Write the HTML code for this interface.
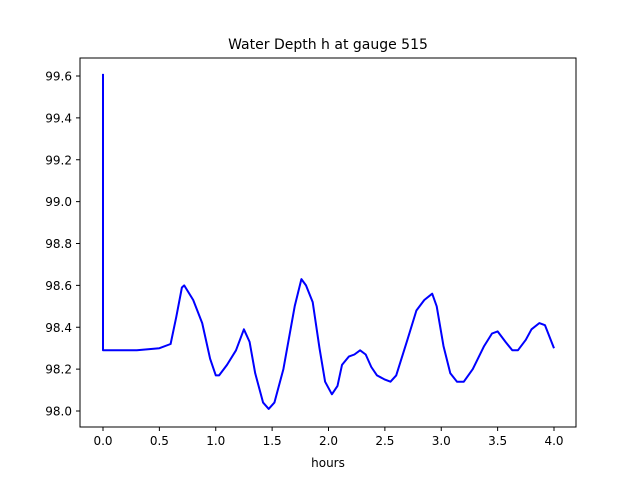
<!DOCTYPE html>
<html><head><meta charset="utf-8"><style>
body{margin:0;background:#fff;}
text{font-family:"DejaVu Sans","Liberation Sans",sans-serif;}
</style></head><body>
<svg id="chart" width="640" height="480">
<rect width="640" height="480" fill="#fff"/>
<text x="328" y="49" text-anchor="middle" font-size="14">Water Depth h at gauge 515</text>
<g id="ticks"></g>
<path id="series" fill="none" stroke="#0000ff" stroke-width="2" stroke-linejoin="round"/>
<rect x="80" y="58" width="496" height="369" fill="none" stroke="#000" stroke-width="1"/>
<text x="328" y="467" text-anchor="middle" font-size="12">hours</text>
</svg>
<script>
const hours=[0,0,0.3,0.5,0.6,0.65,0.7,0.72,0.8,0.88,0.95,1.0,1.03,1.1,1.18,1.25,1.3,1.35,1.42,1.47,1.52,1.6,1.7,1.76,1.8,1.86,1.92,1.97,2.03,2.08,2.12,2.18,2.23,2.28,2.33,2.38,2.43,2.5,2.55,2.6,2.7,2.78,2.85,2.92,2.96,3.02,3.08,3.14,3.2,3.28,3.38,3.45,3.5,3.57,3.63,3.68,3.75,3.8,3.87,3.92,4.0];
const depth=[99.61,98.29,98.29,98.30,98.32,98.45,98.59,98.60,98.53,98.42,98.25,98.17,98.17,98.22,98.29,98.39,98.33,98.18,98.04,98.01,98.04,98.2,98.5,98.63,98.6,98.52,98.3,98.14,98.08,98.12,98.22,98.26,98.27,98.29,98.27,98.21,98.17,98.15,98.14,98.17,98.34,98.48,98.53,98.56,98.5,98.31,98.18,98.14,98.14,98.2,98.31,98.37,98.38,98.33,98.29,98.29,98.34,98.39,98.42,98.41,98.30];
const xTicks=[0,0.5,1,1.5,2,2.5,3,3.5,4];
const yTicks=[98.0,98.2,98.4,98.6,98.8,99.0,99.2,99.4,99.6];
const xs=v=>103+v*112.75;
const ys=v=>411-(v-98.0)*209.375;
const NS="http://www.w3.org/2000/svg";
const g=document.getElementById('ticks');
xTicks.forEach(t=>{
  const l=document.createElementNS(NS,'line');
  l.setAttribute('x1',xs(t));l.setAttribute('x2',xs(t));l.setAttribute('y1',427);l.setAttribute('y2',431);l.setAttribute('stroke','#000');
  
  
  g.appendChild(l);
  const tx=document.createElementNS(NS,'text');
  tx.setAttribute('x',xs(t));tx.setAttribute('y',445);tx.setAttribute('text-anchor','middle');tx.setAttribute('font-size','12');
  tx.textContent=t.toFixed(1);
  
  
  g.appendChild(tx);
});
yTicks.forEach(t=>{
  const l=document.createElementNS(NS,'line');
  l.setAttribute('x1',76);l.setAttribute('x2',80);l.setAttribute('y1',ys(t));l.setAttribute('y2',ys(t));l.setAttribute('stroke','#000');
  
  
  g.appendChild(l);
  const tx=document.createElementNS(NS,'text');
  tx.setAttribute('x',72);tx.setAttribute('y',ys(t)+4.5);tx.setAttribute('text-anchor','end');tx.setAttribute('font-size','12');
  tx.textContent=t.toFixed(1);
  
  
  g.appendChild(tx);
});
document.getElementById('series').setAttribute('d',hours.map((h,i)=>(i?'L':'M')+xs(h).toFixed(1)+','+ys(depth[i]).toFixed(1)).join(' '));
</script>
</body></html>
